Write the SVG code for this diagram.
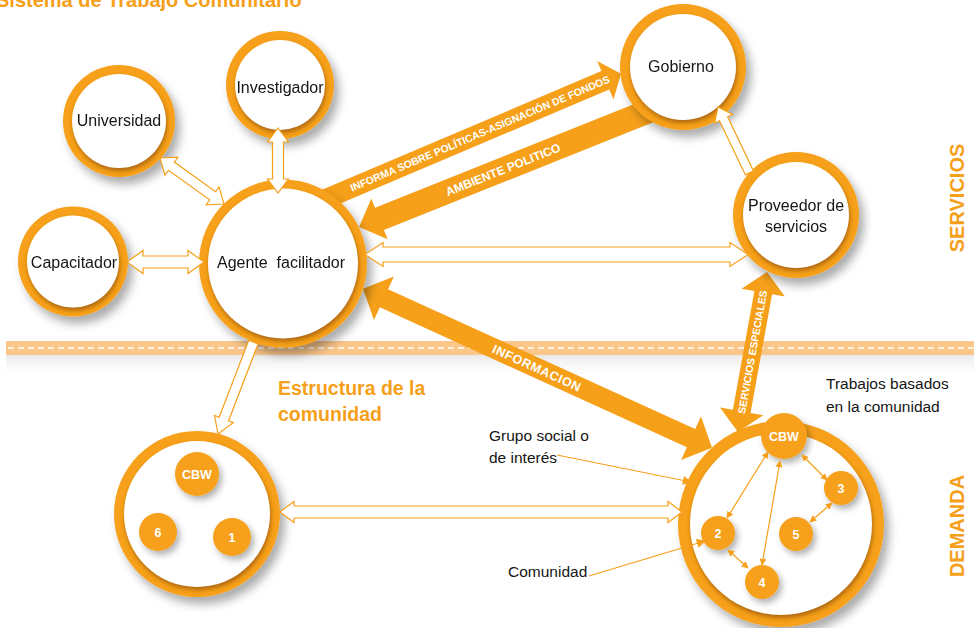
<svg xmlns="http://www.w3.org/2000/svg" width="974" height="628" viewBox="0 0 974 628">
<defs>
<style>
.ring{fill:#F6A01A}
.shade{fill:#A35F0B;opacity:.85;filter:url(#blur2)}
.disc{fill:#fff}
.lbl{font-family:"Liberation Sans",Arial,sans-serif;font-size:16px;fill:#151515;text-anchor:middle}
.note{font-family:"Liberation Sans",Arial,sans-serif;font-size:15.5px;fill:#151515}
.hollow{fill:#fff;stroke:#F6A01A;stroke-width:1.2;stroke-linejoin:miter}
.big{fill:#F6A01A}
.bigtxt{font-family:"Liberation Sans",Arial,sans-serif;font-weight:bold;fill:#fff;text-anchor:middle}
.dot{fill:#F6A01A;filter:url(#shs)}
.dottxt{font-family:"Liberation Sans",Arial,sans-serif;font-weight:bold;fill:#fff;text-anchor:middle;font-size:12.5px}
.thin{stroke:#F6A01A;stroke-width:1.2;fill:none;marker-start:url(#ah);marker-end:url(#ah)}
.ptr{stroke:#F6A01A;stroke-width:1.2;fill:none;marker-end:url(#ah2)}
.orange{font-family:"Liberation Sans",Arial,sans-serif;font-weight:bold;fill:#F6A01A}
</style>
<filter id="sh" x="-30%" y="-30%" width="170%" height="170%"><feDropShadow dx="5" dy="7" stdDeviation="5" flood-color="#000" flood-opacity="0.33"/></filter>
<filter id="shs" x="-50%" y="-50%" width="200%" height="200%"><feDropShadow dx="3" dy="4" stdDeviation="3" flood-color="#000" flood-opacity="0.3"/></filter>
<filter id="blur2" x="-20%" y="-20%" width="140%" height="140%"><feGaussianBlur stdDeviation="2"/></filter>
<linearGradient id="fade" x1="0" y1="0" x2="0" y2="1"><stop offset="0" stop-color="#e9e9e9"/><stop offset="1" stop-color="#ffffff" stop-opacity="0"/></linearGradient>
<marker id="ah" viewBox="0 0 10 10" refX="9" refY="5" markerWidth="7" markerHeight="7" markerUnits="userSpaceOnUse" orient="auto-start-reverse"><path d="M0,0 L10,5 L0,10 z" fill="#F6A01A"/></marker>
<marker id="ah2" viewBox="0 0 10 10" refX="9" refY="5" markerWidth="10" markerHeight="9" markerUnits="userSpaceOnUse" orient="auto"><path d="M0,0 L10,5 L0,10 z" fill="#F6A01A"/></marker>
</defs>

<rect width="974" height="628" fill="#fff"/>

<!-- title -->
<text class="orange" x="-4" y="7" font-size="20">Sistema de Trabajo Comunitario</text>

<!-- divider band -->
<g id="divider">
<rect x="6" y="355" width="968" height="24" fill="url(#fade)"/>
<rect x="6" y="341" width="968" height="14" fill="#FAC68A"/>
<line x1="8" y1="348" x2="974" y2="348" stroke="#fff" stroke-width="1.5" stroke-dasharray="6 4"/>
</g>

<!-- connectors drawn beneath nodes -->
<g id="connectors-under">
<g transform="translate(320,201.4) rotate(-23)">
<polygon class="big" points="0,-10 310,-10 310,-21 327,0 310,21 310,10 0,10"/>
<text class="bigtxt" x="173.8" y="3.7" font-size="10.4">INFORMA SOBRE POLÍTICAS-ASIGNACIÓN DE FONDOS</text>
</g>
<polygon class="big" transform="translate(665,104.7) rotate(158.2)" points="0,-12 307.5,-12 307.5,-22 329.5,0 307.5,22 307.5,12 0,12"/>
<text class="bigtxt" x="503" y="173.8" font-size="12" transform="rotate(-21.8 503 169.5)">AMBIENTE POLITICO</text>
<g transform="translate(363,288.7) rotate(24.5)">
<polygon class="big" points="0,0 23,-24 23,-10 360.5,-10 360.5,-24 383.5,0 360.5,24 360.5,10 23,10 23,24"/>
<text class="bigtxt" x="191.2" y="4.5" font-size="12.5" letter-spacing="0.6">INFORMACION</text>
</g>
<polygon class="big" transform="translate(767,272) rotate(100.3)" points="0,0 21,-22 21,-9 141.6,-9 141.6,-22 162.6,0 141.6,22 141.6,9 21,9 21,22"/>
<text class="bigtxt" x="752.5" y="355.7" font-size="10.4" transform="rotate(-79.7 752.5 352)">SERVICIOS ESPECIALES</text>
</g>

<!-- nodes -->
<g id="universidad" filter="url(#sh)">
<circle class="ring" cx="119" cy="121" r="56"/>
<circle class="shade" cx="120" cy="124" r="47"/>
<circle class="disc" cx="119" cy="121" r="47"/>
<text class="lbl" x="119" y="126">Universidad</text>
</g>
<g id="investigador" filter="url(#sh)">
<circle class="ring" cx="280" cy="85" r="54"/>
<circle class="shade" cx="281" cy="88" r="45"/>
<circle class="disc" cx="280" cy="85" r="45"/>
<text class="lbl" x="280" y="93">Investigador</text>
</g>
<g id="capacitador" filter="url(#sh)">
<circle class="ring" cx="73" cy="261.5" r="55"/>
<circle class="shade" cx="74" cy="264.5" r="46"/>
<circle class="disc" cx="73" cy="261.5" r="46"/>
<text class="lbl" x="74" y="268">Capacitador</text>
</g>
<g id="agente" filter="url(#sh)">
<circle class="ring" cx="283" cy="263.5" r="84"/>
<circle class="shade" cx="284" cy="266.5" r="75"/>
<circle class="disc" cx="283" cy="263.5" r="75"/>
<text class="lbl" x="281" y="268" style="white-space:pre">Agente  facilitador</text>
</g>
<g id="gobierno" filter="url(#sh)">
<circle class="ring" cx="683" cy="67" r="63"/>
<circle class="shade" cx="684" cy="70" r="53"/>
<circle class="disc" cx="683" cy="67" r="53"/>
<text class="lbl" x="681" y="72">Gobierno</text>
</g>
<g id="proveedor" filter="url(#sh)">
<circle class="ring" cx="796" cy="215" r="63"/>
<circle class="shade" cx="797" cy="218" r="53"/>
<circle class="disc" cx="796" cy="215" r="53"/>
<text class="lbl" x="796" y="211">Proveedor de</text>
<text class="lbl" x="796" y="232">servicios</text>
</g>
<g id="comunidad-estructura">
<g filter="url(#sh)">
<circle class="ring" cx="197" cy="514" r="83"/>
<circle class="shade" cx="198" cy="517" r="73"/>
<circle class="disc" cx="197" cy="514" r="73"/>
</g>
<circle class="dot" cx="197" cy="474" r="22"/>
<text class="dottxt" x="197" y="479" font-size="14">CBW</text>
<circle class="dot" cx="158" cy="532" r="19"/>
<text class="dottxt" x="158" y="536.5">6</text>
<circle class="dot" cx="232" cy="537" r="19"/>
<text class="dottxt" x="232" y="541.5">1</text>
</g>
<g id="comunidad-trabajos">
<g filter="url(#sh)">
<circle class="ring" cx="781" cy="524" r="103"/>
<circle class="shade" cx="782" cy="527" r="91"/>
<circle class="disc" cx="781" cy="524" r="91"/>
</g>
<circle class="dot" cx="784" cy="436" r="23"/>
<text class="dottxt" x="784" y="441" font-size="14">CBW</text>
<circle class="dot" cx="841" cy="488" r="17"/>
<text class="dottxt" x="841" y="492.5">3</text>
<circle class="dot" cx="796" cy="534" r="17"/>
<text class="dottxt" x="796" y="538.5">5</text>
<circle class="dot" cx="718" cy="533" r="17"/>
<text class="dottxt" x="718" y="537.5">2</text>
<circle class="dot" cx="762" cy="582" r="17"/>
<text class="dottxt" x="762" y="586.5">4</text>
</g>

<!-- connectors drawn above nodes -->
<g id="connectors">
<polygon class="hollow" transform="translate(160,158) rotate(35.7)" points="0,0 14,-11 14,-5 64.8,-5 64.8,-11 78.8,0 64.8,11 64.8,5 14,5 14,11"/>
<polygon class="hollow" transform="translate(278,128) rotate(90)" points="0,0 14,-10.5 14,-5.5 51,-5.5 51,-10.5 65,0 51,10.5 51,5.5 14,5.5 14,10.5"/>
<polygon class="hollow" transform="translate(127,262)" points="0,0 16,-11.5 16,-6 61,-6 61,-11.5 77,0 61,11.5 61,6 16,6 16,11.5"/>
<polygon class="hollow" transform="translate(365,254.5)" points="0,0 18,-12 18,-7.5 365,-7.5 365,-12 383,0 365,12 365,7.5 18,7.5 18,12"/>
<polygon class="hollow" transform="translate(749.4,172.9) rotate(-115.5)" points="0,-4.5 60,-4.5 60,-10 73,0 60,10 60,4.5 0,4.5"/>
<polygon class="hollow" transform="translate(253.4,342.1) rotate(111)" points="0,-5 82.5,-5 82.5,-10 98.5,0 82.5,10 82.5,5 0,5"/>
<polygon class="hollow" transform="translate(280,512)" points="0,0 14,-10.5 14,-6 388,-6 388,-10.5 402,0 388,10.5 388,6 14,6 14,10.5"/>
<line class="thin" x1="768" y1="452" x2="727" y2="518"/>
<line class="thin" x1="780" y1="461" x2="762" y2="565"/>
<line class="thin" x1="802" y1="455" x2="827" y2="480"/>
<line class="thin" x1="832" y1="503" x2="810" y2="522"/>
<line class="thin" x1="728" y1="550" x2="748" y2="568"/>
<line class="ptr" x1="557" y1="455" x2="691" y2="482"/>
<line class="ptr" x1="589" y1="576" x2="705" y2="541"/>
</g>

<!-- free labels -->
<g id="labels">
<text class="orange" x="278" y="395" font-size="19.5">Estructura de la</text>
<text class="orange" x="278" y="421" font-size="19.5">comunidad</text>
<text class="note" x="826" y="389">Trabajos basados</text>
<text class="note" x="826" y="412">en la comunidad</text>
<text class="note" x="489" y="441">Grupo social o</text>
<text class="note" x="489" y="463">de interés</text>
<text class="note" x="508" y="577">Comunidad</text>
<text class="orange" x="957" y="205" font-size="20" text-anchor="middle" transform="rotate(-90 957 198)">SERVICIOS</text>
<text class="orange" x="957" y="533" font-size="20" text-anchor="middle" transform="rotate(-90 957 526)">DEMANDA</text>
</g>
</svg>
